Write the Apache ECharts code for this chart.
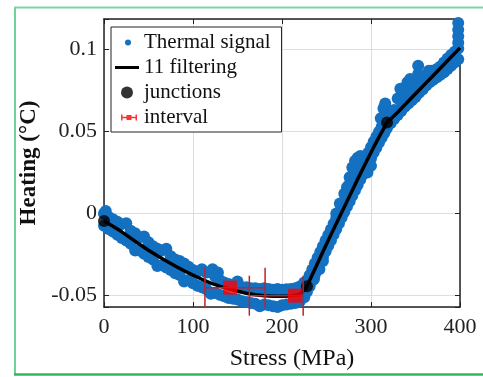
<!DOCTYPE html>
<html>
<head>
<meta charset="utf-8">
<script src="https://cdn.jsdelivr.net/npm/echarts@6/dist/echarts.min.js"></script>
<style>
html,body{margin:0;padding:0;background:#fff;}
#c{width:483px;height:377px;}
</style>
</head>
<body>
<div id="c"></div>
<script>
// ---- data ----
const xTicks = [0, 100, 200, 300, 400];
const yTicks = [-0.05, 0, 0.05, 0.1];
const seriesNames = ['Thermal signal', '11 filtering', 'junctions', 'interval'];

// thermal signal (noisy band)
const signal = [
[0,0.0000],[0,-0.0075],[2,0.0015],
[5,-0.0020],[5,-0.0095],[10,-0.0035],[10,-0.0110],[15,-0.0050],[15,-0.0130],
[20,-0.0065],[20,-0.0150],[25,-0.0060],[25,-0.0165],[30,-0.0105],[30,-0.0185],
[35,-0.0120],[35,-0.0225],[40,-0.0145],[40,-0.0225],[45,-0.0140],[45,-0.0245],
[50,-0.0175],[50,-0.0265],[55,-0.0200],[55,-0.0280],[60,-0.0215],[60,-0.0320],
[65,-0.0225],[65,-0.0315],[70,-0.0215],[70,-0.0330],[75,-0.0260],[75,-0.0345],
[80,-0.0280],[80,-0.0365],[85,-0.0290],[85,-0.0375],[90,-0.0305],[90,-0.0415],
[95,-0.0325],[95,-0.0405],[100,-0.0345],[100,-0.0425],[105,-0.0355],[105,-0.0440],
[110,-0.0340],[110,-0.0450],[115,-0.0360],[115,-0.0462],[120,-0.0360],[120,-0.0490],
[122,-0.0340],[128,-0.0360],
[125,-0.0385],[125,-0.0485],[130,-0.0405],[130,-0.0495],[135,-0.0420],[135,-0.0505],
[140,-0.0430],[140,-0.0515],[145,-0.0435],[145,-0.0520],[150,-0.0415],[150,-0.0525],
[155,-0.0450],[155,-0.0535],[160,-0.0450],[160,-0.0540],[165,-0.0455],[165,-0.0545],
[170,-0.0455],[170,-0.0550],[175,-0.0460],[175,-0.0565],[180,-0.0455],[180,-0.0555],
[185,-0.0460],[185,-0.0560],[190,-0.0465],[190,-0.0565],[195,-0.0460],[195,-0.0570],
[200,-0.0465],[200,-0.0560],[205,-0.0462],[205,-0.0555],[210,-0.0460],[210,-0.0550],
[215,-0.0455],[215,-0.0545],[220,-0.0445],[220,-0.0535],[225,-0.0420],[225,-0.0510],
[228,-0.0411],[228,-0.0477],[231,-0.0377],[231,-0.0443],[234,-0.0342],[234,-0.0408],
[237,-0.0305],[237,-0.0371],[240,-0.0270],[240,-0.0336],[243,-0.0235],[243,-0.0301],
[246,-0.0200],[246,-0.0266],[249,-0.0165],[249,-0.0231],[252,-0.0131],[252,-0.0197],
[255,-0.0097],[255,-0.0163],[258,-0.0062],[258,-0.0128],[261,-0.0028],[261,-0.0094],
[264,0.0007],[264,-0.0059],[267,0.0041],[267,-0.0025],[270,0.0075],[270,0.0009],
[273,0.0108],[273,0.0042],[276,0.0141],[276,0.0075],[279,0.0174],[279,0.0108],
[282,0.0207],[282,0.0141],[285,0.0240],[285,0.0174],[288,0.0273],[288,0.0207],
[291,0.0305],[291,0.0239],[294,0.0338],[294,0.0272],[297,0.0370],[297,0.0304],
[300,0.0403],[300,0.0337],[303,0.0437],[303,0.0371],[306,0.0467],[306,0.0401],
[309,0.0498],[309,0.0432],[312,0.0528],[312,0.0462],[315,0.0557],[315,0.0491],
[318,0.0587],[318,0.0521],
[261,0.0000],[265,0.0060],[270,0.0120],[273,0.0160],[275,0.0170],[276,0.0220],
[279,0.0280],[282,0.0320],[285,0.0340],[288,0.0350],[296,0.0250],[300,0.0290],
[236,-0.0400],[242,-0.0340],[246,-0.0290],[311,0.0580],[314,0.0640],[316,0.0670],
[322,0.0600],[322,0.0550],[326,0.0630],[326,0.0575],[330,0.0700],[330,0.0600],[333,0.0760],
[334,0.0680],[334,0.0625],[338,0.0720],[338,0.0650],[341,0.0800],[344,0.0820],
[342,0.0740],[342,0.0670],[346,0.0750],[346,0.0690],[350,0.0780],[350,0.0710],
[353,0.0900],[353,0.0850],[354,0.0800],[354,0.0735],[358,0.0810],[358,0.0755],
[362,0.0840],[362,0.0780],[365,0.0870],[368,0.0870],[366,0.0850],[366,0.0800],
[370,0.0860],[370,0.0815],[374,0.0880],[374,0.0830],[378,0.0895],[378,0.0845],
[382,0.0920],[382,0.0860],[386,0.0945],[386,0.0880],[390,0.0965],[390,0.0900],
[394,0.0985],[394,0.0920],[398,0.1005],[398,0.0940],
[398,0.1040],[398,0.1080],[398,0.1120],[398,0.1160],[398,0.1190]
];

// l1 filtered curve
const filtered = [
[0,-0.0046],[10,-0.0078],[20,-0.0112],[30,-0.0150],[40,-0.0188],[50,-0.0224],
[60,-0.0258],[70,-0.0290],[80,-0.0320],[90,-0.0349],[100,-0.0376],[110,-0.0401],
[120,-0.0424],[130,-0.0443],[140,-0.0459],[150,-0.0474],[160,-0.0486],[170,-0.0495],
[180,-0.0501],[190,-0.0504],[200,-0.0505],[210,-0.0503],[218,-0.0495],[223,-0.0478],
[228,-0.0444],[237,-0.0338],[246.6,-0.0226],[256,-0.0118],[265.4,-0.0012],[275,0.0096],
[284.2,0.0200],[293.6,0.0303],[303,0.0404],[310.5,0.0480],[318,0.0554],
[330,0.0617],[340,0.0673],[350,0.0729],[360,0.0785],[370,0.0841],[380,0.0897],
[390,0.0953],[400,0.1009]
];

const junctions = [[0,-0.0046],[228,-0.0444],[318,0.0554]];

const intervalX = [141.6, 214.6];
const intervalY = [-0.0452, -0.0501];
const intervalLo = [113.4, 163.3];
const intervalHi = [181.0, 223.8];

// ---- chart ----
const FONT = "'Liberation Serif','Times New Roman',serif";
const squares = intervalX.map((x, i) => [x, intervalY[i]]);
const bars = intervalX.map((x, i) => [x, intervalY[i], intervalLo[i], intervalHi[i]]);

const pad = 'M0 0M26 25';
const icons = {
  'Thermal signal': 'path://' + pad + 'M12 12.5A3 3 0 1 1 18 12.5A3 3 0 1 1 12 12.5Z',
  '11 filtering': 'path://' + pad + 'M2 11H26V14H2Z',
  'junctions': 'path://' + pad + 'M8 12.5A6 6 0 1 1 20 12.5A6 6 0 1 1 8 12.5Z',
  'interval': 'path://' + pad + 'M8 9.5H9.5V15.5H8ZM22.5 9.5H24V15.5H22.5ZM9.5 11.8H22.5V13.2H9.5ZM13.5 10H18.5V15H13.5Z'
};

const isTick = (v, arr) => arr.some(t => Math.abs(t - v) < 1e-9);
const axisLineStyle = { color: '#222', width: 1.5 };
const tickStyle = { inside: true, length: 5, lineStyle: { color: '#222', width: 1 } };

const chart = echarts.init(document.getElementById('c'), null, { renderer: 'canvas' });
chart.setOption({
  animation: false,
  backgroundColor: '#fff',
  grid: { left: 104, right: 23, top: 19, bottom: 70 },
  legend: {
    orient: 'vertical',
    left: 111, top: 27,
    padding: [3, 11, 2, 2],
    itemGap: 0,
    itemWidth: 26, itemHeight: 25,
    borderColor: '#222', borderWidth: 1, backgroundColor: '#fff',
    selectedMode: false,
    itemStyle: { borderWidth: 0 },
    textStyle: { fontFamily: FONT, fontSize: 21, color: '#111', lineHeight: 25 },
    data: seriesNames.map(n => ({ name: n, icon: icons[n] }))
  },
  xAxis: [{
    type: 'value', min: xTicks[0], max: xTicks[xTicks.length - 1], interval: 100,
    position: 'bottom',
    axisLine: { onZero: false, lineStyle: axisLineStyle },
    axisTick: tickStyle,
    axisLabel: { fontFamily: FONT, fontSize: 22, color: '#222', margin: 9,
      formatter: v => isTick(v, xTicks) ? String(v) : '' },
    splitLine: { show: true, lineStyle: { color: '#dedede', width: 1 } },
    name: 'Stress (MPa)', nameLocation: 'middle', nameGap: 40,
    nameTextStyle: { fontFamily: FONT, fontSize: 24, color: '#111', padding: [0, 0, 0, 20] }
  }, {
    type: 'value', min: xTicks[0], max: xTicks[xTicks.length - 1], interval: 100,
    position: 'top',
    axisLine: { onZero: false, lineStyle: axisLineStyle },
    axisTick: tickStyle,
    axisLabel: { show: false },
    splitLine: { show: false }
  }],
  yAxis: [{
    type: 'value', min: -0.057, max: 0.1185, splitNumber: 3,
    position: 'left',
    axisLine: { onZero: false, lineStyle: axisLineStyle },
    axisTick: tickStyle,
    axisLabel: { fontFamily: FONT, fontSize: 22, color: '#222', margin: 7,
      formatter: v => isTick(v, yTicks) ? String(+v.toFixed(3)) : '' },
    splitLine: { show: true, lineStyle: { color: '#dedede', width: 1 } },
    name: 'Heating (°C)', nameLocation: 'middle', nameGap: 62, nameRotate: 90,
    nameTextStyle: { fontFamily: FONT, fontSize: 23, fontWeight: 'bold', color: '#111' }
  }, {
    type: 'value', min: -0.057, max: 0.1185, splitNumber: 3,
    position: 'right',
    axisLine: { onZero: false, lineStyle: axisLineStyle },
    axisTick: tickStyle,
    axisLabel: { show: false },
    splitLine: { show: false }
  }],
  series: [{
    name: seriesNames[0], type: 'scatter', data: signal,
    symbol: 'circle', symbolSize: 12, z: 1, silent: true,
    itemStyle: { color: '#1470c0', opacity: 1 }
  }, {
    name: seriesNames[1], type: 'line', data: filtered,
    showSymbol: false, symbol: 'none', z: 2, silent: true,
    lineStyle: { color: '#000', width: 3.5 }, itemStyle: { color: '#000' }
  }, {
    name: seriesNames[2], type: 'scatter', data: junctions,
    symbol: 'circle', symbolSize: 12, z: 3, silent: true,
    itemStyle: { color: '#000' }
  }, {
    name: 'interval bars', type: 'custom', data: bars, z: 4, silent: true,
    encode: { x: [0, 2, 3], y: 1 },
    clip: false,
    renderItem: (params, api) => {
      const y = api.value(1);
      const lo = api.coord([api.value(2), y]);
      const hi = api.coord([api.value(3), y]);
      const st = { stroke: '#c0232b', lineWidth: 1.5 };
      return { type: 'group', children: [
        { type: 'line', shape: { x1: lo[0], y1: lo[1], x2: hi[0], y2: hi[1] }, style: st },
        { type: 'line', shape: { x1: lo[0], y1: lo[1] - 20, x2: lo[0], y2: lo[1] + 20 }, style: st },
        { type: 'line', shape: { x1: hi[0], y1: hi[1] - 20, x2: hi[0], y2: hi[1] + 20 }, style: st }
      ]};
    }
  }, {
    name: seriesNames[3], type: 'scatter', data: squares,
    symbol: 'rect', symbolSize: 14, z: 5, silent: true,
    itemStyle: { color: '#ff0000' }
  }],
  graphic: [
    { type: 'line', shape: { x1: 15, y1: 7, x2: 15, y2: 375 }, style: { stroke: '#6dd39b', lineWidth: 2 } },
    { type: 'line', shape: { x1: 14, y1: 7.5, x2: 483, y2: 7.5 }, style: { stroke: '#7ad7a3', lineWidth: 2 } },
    { type: 'line', shape: { x1: 14, y1: 374.5, x2: 483, y2: 374.5 }, style: { stroke: '#2fb862', lineWidth: 2.5 } }
  ]
});
</script>
</body>
</html>
